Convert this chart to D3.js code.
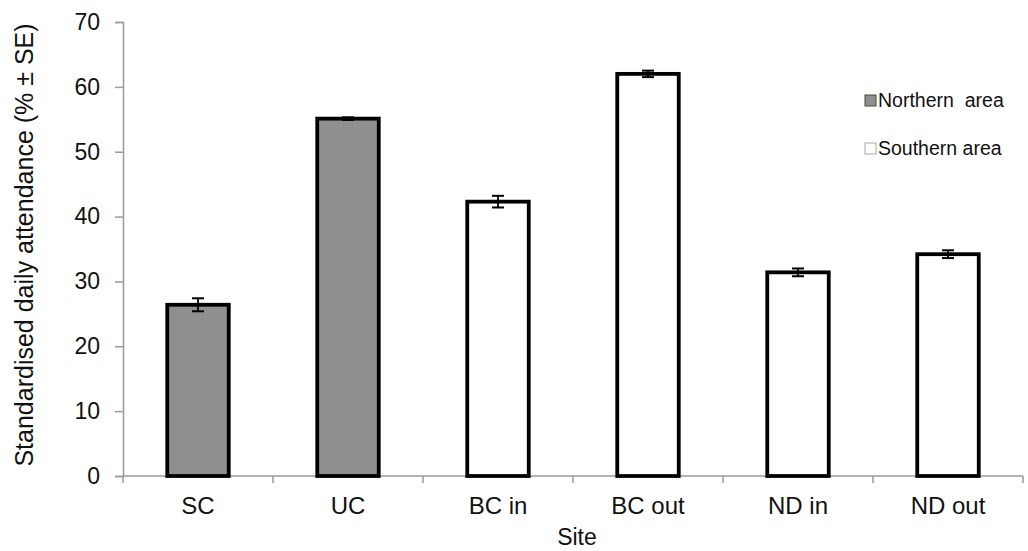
<!DOCTYPE html>
<html>
<head>
<meta charset="utf-8">
<script src="https://cdn.jsdelivr.net/npm/d3@7"></script>
<style>
  html, body { margin: 0; padding: 0; background: #fff; }
  svg text { font-family: "Liberation Sans", Arial, sans-serif; fill: #111; }
</style>
</head>
<body>
<svg id="chart" width="1028" height="551"></svg>
<script>
// Site attendance data
const sites = ["SC", "UC", "BC in", "BC out", "ND in", "ND out"];
const areas = ["Northern", "Northern", "Southern", "Southern", "Southern", "Southern"];
const attendance = [26.4, 55.1, 42.3, 62.0, 31.4, 34.2];
const stdErr = [1.0, 0.2, 0.9, 0.5, 0.6, 0.6];
const yTicks = [0, 10, 20, 30, 40, 50, 60, 70];
const legendLabels = ["Northern  area", "Southern area"];

const svg = d3.select("#chart");
const plotLeft = 123, plotRight = 1023, plotTop = 22, plotBottom = 476;

const x = d3.scaleBand().domain(sites).range([plotLeft, plotRight]).paddingInner(0.59).paddingOuter(0.295);
const xBounds = d3.scaleLinear().domain([0, sites.length]).range([plotLeft, plotRight]);
const y = d3.scaleLinear().domain([0, 70]).range([plotBottom, plotTop]);

const fillFor = a => a === "Northern" ? "#8f8f8f" : "#ffffff";
const axisColor = "#9a9a9a";

// Y axis
const yAxis = svg.append("g").attr("transform", `translate(${plotLeft},0)`)
  .call(d3.axisLeft(y).tickValues(yTicks).tickSize(8).tickPadding(15));
yAxis.select(".domain").attr("stroke", axisColor).attr("stroke-width", 1.5);
yAxis.selectAll(".tick line").attr("stroke", axisColor).attr("stroke-width", 1.5);
yAxis.selectAll(".tick text").attr("font-size", 23).attr("font-family", "Liberation Sans, Arial, sans-serif").attr("fill", "#111");

// X axis: category labels and boundary ticks
svg.append("line").attr("x1", plotLeft).attr("x2", plotRight).attr("y1", y(0)).attr("y2", y(0))
  .attr("stroke", axisColor).attr("stroke-width", 1.5);
svg.selectAll(".xb").data(d3.range(sites.length + 1)).join("line")
  .attr("x1", d => xBounds(d)).attr("x2", d => xBounds(d))
  .attr("y1", y(0)).attr("y2", y(0) + 7)
  .attr("stroke", axisColor).attr("stroke-width", 1.5);
svg.selectAll(".xl").data(sites).join("text")
  .attr("x", d => x(d) + x.bandwidth() / 2).attr("y", 514)
  .attr("text-anchor", "middle").attr("font-size", 24).text(d => d);

// Bars
svg.selectAll(".bar").data(sites).join("rect")
  .attr("x", d => x(d)).attr("width", x.bandwidth())
  .attr("y", (d, i) => y(attendance[i]))
  .attr("height", (d, i) => y(0) - y(attendance[i]))
  .attr("fill", (d, i) => fillFor(areas[i]))
  .attr("stroke", "#000").attr("stroke-width", 3.8);

// Error bars
const cap = 6;
const eb = svg.selectAll(".err").data(sites).join("g");
eb.append("line")
  .attr("x1", d => x(d) + x.bandwidth() / 2).attr("x2", d => x(d) + x.bandwidth() / 2)
  .attr("y1", (d, i) => y(attendance[i] - stdErr[i])).attr("y2", (d, i) => y(attendance[i] + stdErr[i]))
  .attr("stroke", "#000").attr("stroke-width", 1.8);
[1, -1].forEach(s => {
  eb.append("line")
    .attr("x1", d => x(d) + x.bandwidth() / 2 - cap).attr("x2", d => x(d) + x.bandwidth() / 2 + cap)
    .attr("y1", (d, i) => y(attendance[i] + s * stdErr[i])).attr("y2", (d, i) => y(attendance[i] + s * stdErr[i]))
    .attr("stroke", "#000").attr("stroke-width", 2);
});

// Axis titles
svg.append("text").attr("x", 577).attr("y", 545).attr("text-anchor", "middle")
  .attr("font-size", 23).text("Site");
svg.append("text").attr("transform", "translate(33,245) rotate(-90)")
  .attr("text-anchor", "middle").attr("font-size", 25)
  .text("Standardised daily attendance (% \u00b1 SE)");

// Legend
const legendFills = ["#8f8f8f", "#ffffff"];
const lg = svg.selectAll(".lg").data(legendLabels).join("g")
  .attr("transform", (d, i) => `translate(865,${107 + i * 48})`);
lg.append("rect").attr("x", 0).attr("y", -12).attr("width", 11).attr("height", 11)
  .attr("fill", (d, i) => legendFills[i]).attr("stroke", (d, i) => i === 0 ? "#444" : "#aaa").attr("stroke-width", 1);
lg.append("text").attr("x", 13).attr("y", 0).attr("font-size", 19.5)
  .attr("xml:space", "preserve").style("white-space", "pre").text(d => d);
</script>
</body>
</html>
